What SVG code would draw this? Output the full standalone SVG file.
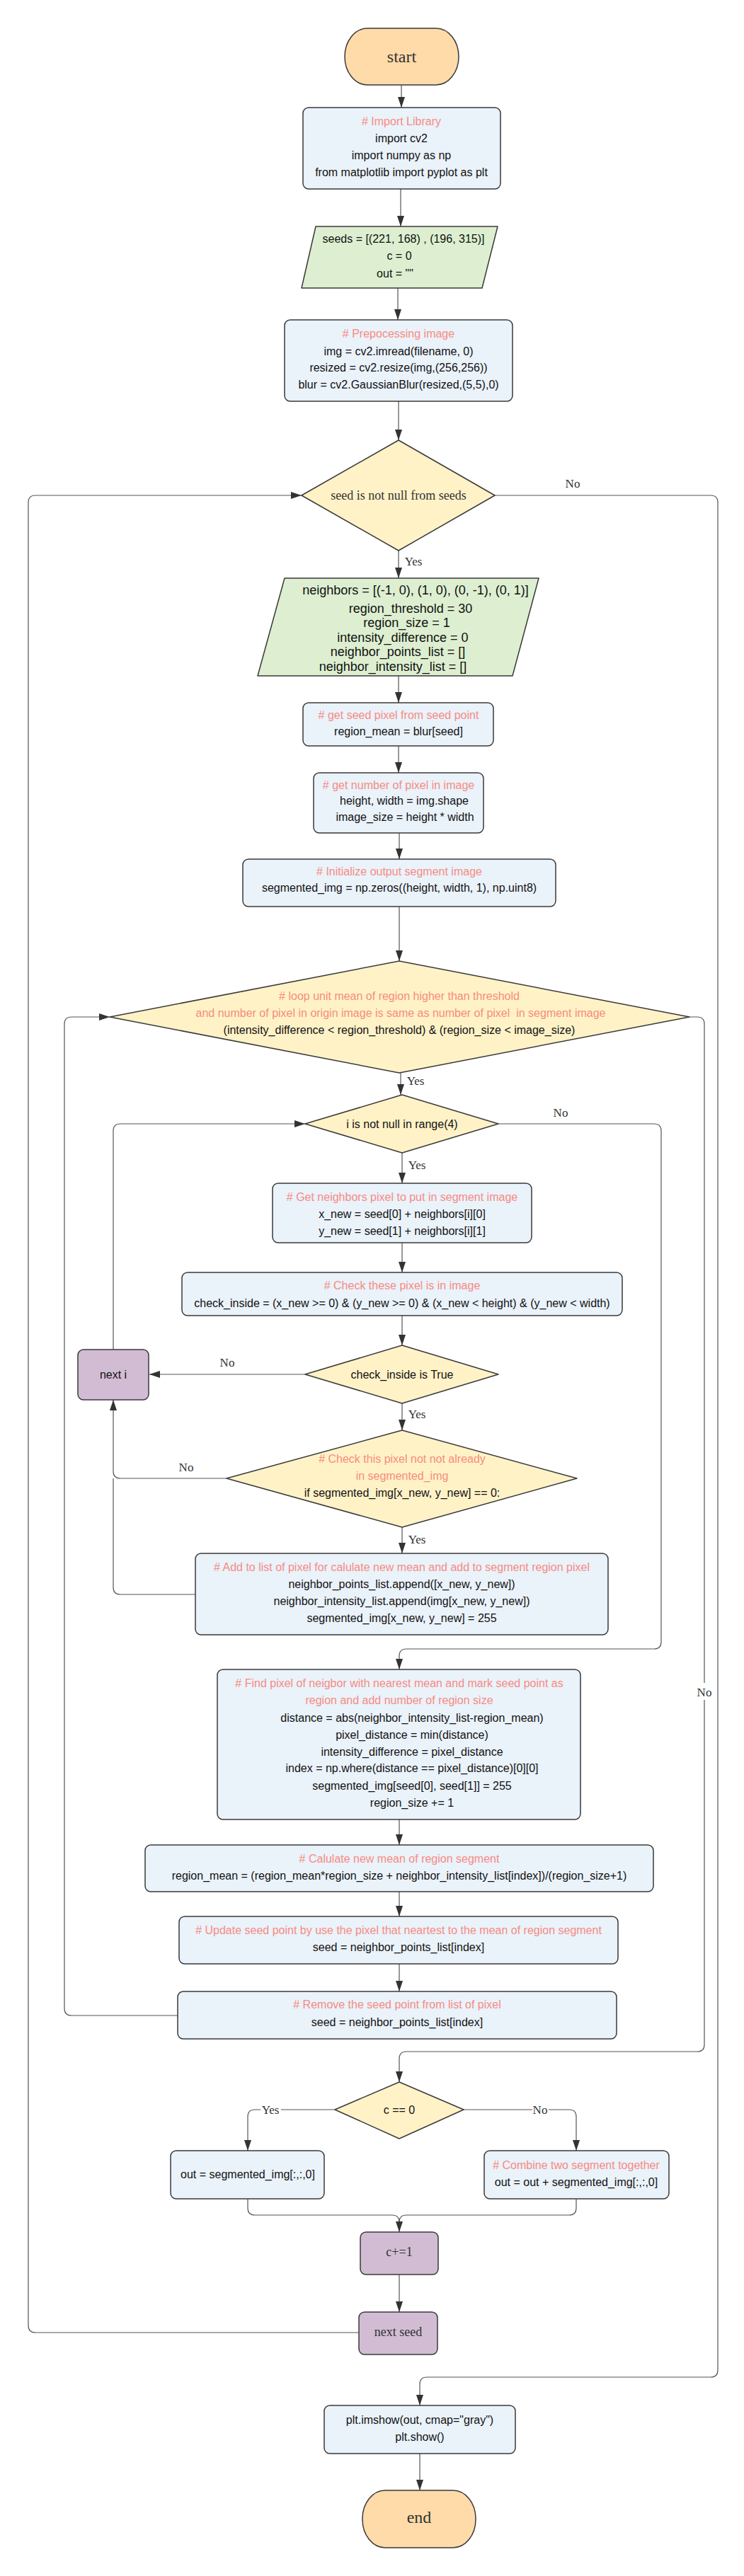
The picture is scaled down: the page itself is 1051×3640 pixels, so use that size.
<svg xmlns="http://www.w3.org/2000/svg" width="1051" height="3640" viewBox="0 0 1051 3640">
<style>
.term{fill:#FEDBA8;stroke:#3a3a3a;stroke-width:1.5}
.proc{fill:#EAF2FA;stroke:#3a3a3a;stroke-width:1.5}
.io{fill:#DDEFD0;stroke:#3a3a3a;stroke-width:1.5;stroke-linejoin:round}
.dec{fill:#FFF2C7;stroke:#3a3a3a;stroke-width:1.5;stroke-linejoin:round}
.pur{fill:#D2BCD3;stroke:#3a3a3a;stroke-width:1.5}
.t{font-family:"Liberation Sans",Arial,sans-serif;font-size:16px;fill:#111;text-anchor:middle}
.cm{font-family:"Liberation Sans",Arial,sans-serif;font-size:16px;fill:#F78B82;text-anchor:middle}
.big{font-size:18px}
.s{font-family:"Liberation Serif","Times New Roman",serif;fill:#333;text-anchor:middle}
.lbl{font-family:"Liberation Serif","Times New Roman",serif;font-size:17px;fill:#333;text-anchor:middle}
.c{fill:none;stroke:#555;stroke-width:1.2}
</style>
<defs>
<marker id="arr" viewBox="0 0 15 10" refX="15" refY="5" markerWidth="15" markerHeight="10" orient="auto" markerUnits="userSpaceOnUse">
<path d="M0,0 L15,5 L0,10 z" fill="#333"/>
</marker>
</defs>
<rect width="1051" height="3640" fill="#ffffff"/>

<g id="connectors">
<path class="c" marker-end="url(#arr)" d="M567,120 V152"/>
<path class="c" marker-end="url(#arr)" d="M566,267 V320"/>
<path class="c" marker-end="url(#arr)" d="M562,407 V452"/>
<path class="c" marker-end="url(#arr)" d="M563,567 V622"/>
<path class="c" marker-end="url(#arr)" d="M699,700 H1004 Q1014,700 1014,710 V3349 Q1014,3359 1004,3359 H603 Q593,3359 593,3369 V3399"/>
<path class="c" marker-end="url(#arr)" d="M563,778 V817"/>
<path class="c" marker-end="url(#arr)" d="M563,955 V993"/>
<path class="c" marker-end="url(#arr)" d="M563,1054 V1092"/>
<path class="c" marker-end="url(#arr)" d="M564,1177 V1214"/>
<path class="c" marker-end="url(#arr)" d="M564,1281 V1358"/>
<path class="c" marker-end="url(#arr)" d="M566,1516 V1547"/>
<path class="c" marker-end="url(#arr)" d="M704,1588 H924 Q934,1588 934,1598 V2320 Q934,2330 924,2330 H574 Q564,2330 564,2340 V2359"/>
<path class="c" marker-end="url(#arr)" d="M568,1629 V1672"/>
<path class="c" marker-end="url(#arr)" d="M568,1756 V1798"/>
<path class="c" marker-end="url(#arr)" d="M568,1859 V1901"/>
<path class="c" marker-end="url(#arr)" d="M431,1942 H211"/>
<path class="c" marker-end="url(#arr)" d="M160,1907 V1598 Q160,1588 170,1588 H431"/>
<path class="c" marker-end="url(#arr)" d="M568,1983 V2021"/>
<path class="c" marker-end="url(#arr)" d="M320,2089 H170 Q160,2089 160,2079 V1978"/>
<path class="c" d="M276,2253 H170 Q160,2253 160,2243 V2089"/>
<path class="c" marker-end="url(#arr)" d="M568,2158 V2195"/>
<path class="c" marker-end="url(#arr)" d="M564,2571 V2607"/>
<path class="c" marker-end="url(#arr)" d="M564,2673 V2708"/>
<path class="c" marker-end="url(#arr)" d="M564,2775 V2814"/>
<path class="c" marker-end="url(#arr)" d="M251,2848 H101 Q91,2848 91,2838 V1447 Q91,1437 101,1437 H155"/>
<path class="c" marker-end="url(#arr)" d="M974,1437 H985 Q995,1437 995,1447 V2889 Q995,2899 985,2899 H574 Q564,2899 564,2909 V2942"/>
<path class="c" marker-end="url(#arr)" d="M473,2981 H360 Q350,2981 350,2991 V3039"/>
<path class="c" marker-end="url(#arr)" d="M655,2981 H804 Q814,2981 814,2991 V3039"/>
<path class="c" d="M350,3107 V3120 Q350,3130 360,3130 H554 Q564,3130 564,3140"/>
<path class="c" marker-end="url(#arr)" d="M814,3107 V3120 Q814,3130 804,3130 H574 Q564,3130 564,3140 V3154"/>
<path class="c" marker-end="url(#arr)" d="M564,3214 V3267"/>
<path class="c" marker-end="url(#arr)" d="M507,3296 H50 Q40,3296 40,3286 V710 Q40,700 50,700 H426"/>
<path class="c" marker-end="url(#arr)" d="M593,3467 V3519"/>
<text class="lbl" x="809" y="689">No</text>
<text class="lbl" x="584" y="799">Yes</text>
<text class="lbl" x="587" y="1533">Yes</text>
<text class="lbl" x="792" y="1578">No</text>
<text class="lbl" x="589" y="1652">Yes</text>
<text class="lbl" x="321" y="1931">No</text>
<text class="lbl" x="589" y="2004">Yes</text>
<text class="lbl" x="263" y="2079">No</text>
<text class="lbl" x="589" y="2181">Yes</text>
<rect x="983" y="2378" width="24" height="24" fill="#ffffff"/>
<text class="lbl" x="995" y="2397">No</text>
<rect x="368" y="2970" width="29" height="22" fill="#ffffff"/>
<text class="lbl" x="382" y="2987">Yes</text>
<rect x="752" y="2970" width="23" height="22" fill="#ffffff"/>
<text class="lbl" x="763" y="2987">No</text>
</g>

<g id="start">
<rect class="term" x="487" y="40" width="161" height="80" rx="32" ry="40"/>
<text class="s" x="567.5" y="88" font-size="24">start</text>
</g>

<g id="import">
<rect class="proc" x="428" y="152" width="279" height="115" rx="8"/>
<text class="cm" x="567" y="177"># Import Library</text>
<text class="t" x="567" y="201">import cv2</text>
<text class="t" x="567" y="225">import numpy as np</text>
<text class="t" x="567" y="249">from matplotlib import pyplot as plt</text>
</g>

<g id="seeds">
<path class="io" d="M446,320 H703 L681,407 H426 Z"/>
<text class="t" x="570" y="343" font-size="17">seeds = [(221, 168) , (196, 315)]</text>
<text class="t" x="564" y="367">c = 0</text>
<text class="t" x="558" y="392">out = ""</text>
</g>

<g id="preprocess">
<rect class="proc" x="402" y="452" width="322" height="115" rx="8"/>
<text class="cm" x="563" y="477"># Prepocessing image</text>
<text class="t" x="563" y="502">img = cv2.imread(filename, 0)</text>
<text class="t" x="563" y="525">resized = cv2.resize(img,(256,256))</text>
<text class="t" x="563" y="549">blur = cv2.GaussianBlur(resized,(5,5),0)</text>
</g>

<g id="seed-loop">
<path class="dec" d="M563,622 L699,700 L563,778 L426,700 Z"/>
<text class="s" x="563" y="706" font-size="18">seed is not null from seeds</text>
</g>

<g id="init-vars">
<path class="io" d="M402,817 H761 L724,955 H364 Z"/>
<text class="t big" x="587" y="840">neighbors = [(-1, 0), (1, 0), (0, -1), (0, 1)]</text>
<text class="t big" x="580" y="866">region_threshold = 30</text>
<text class="t big" x="574.5" y="886">region_size = 1</text>
<text class="t big" x="569" y="907">intensity_difference = 0</text>
<text class="t big" x="562" y="927">neighbor_points_list = []</text>
<text class="t big" x="555" y="948">neighbor_intensity_list = []</text>
</g>

<g id="seed-pixel">
<rect class="proc" x="428" y="993" width="269" height="61" rx="8"/>
<text class="cm" x="563" y="1016"># get seed pixel from seed point</text>
<text class="t" x="563" y="1039">region_mean = blur[seed]</text>
</g>

<g id="num-pixel">
<rect class="proc" x="443" y="1092" width="240" height="85" rx="8"/>
<text class="cm" x="563" y="1115"># get number of pixel in image</text>
<text class="t" x="571" y="1137">height, width = img.shape</text>
<text class="t" x="572" y="1160">image_size = height * width</text>
</g>

<g id="init-output">
<rect class="proc" x="343" y="1214" width="442" height="67" rx="8"/>
<text class="cm" x="564" y="1237"># Initialize output segment image</text>
<text class="t" x="564" y="1260">segmented_img = np.zeros((height, width, 1), np.uint8)</text>
</g>

<g id="region-loop">
<path class="dec" d="M564,1358 L974,1437 L564,1516 L155,1437 Z"/>
<text class="cm" x="564" y="1413"># loop unit mean of region higher than threshold</text>
<text class="cm" x="566" y="1437" xml:space="preserve">and number of pixel in origin image is same as number of pixel  in segment image</text>
<text class="t" x="564" y="1461">(intensity_difference &lt; region_threshold) &amp; (region_size &lt; image_size)</text>
</g>

<g id="i-loop">
<path class="dec" d="M568,1547 L704,1588 L568,1629 L431,1588 Z"/>
<text class="t" x="568" y="1594">i is not null in range(4)</text>
</g>

<g id="get-neighbors">
<rect class="proc" x="385" y="1672" width="366" height="84" rx="8"/>
<text class="cm" x="568" y="1697"># Get neighbors pixel to put in segment image</text>
<text class="t" x="568" y="1721">x_new = seed[0] + neighbors[i][0]</text>
<text class="t" x="568" y="1745">y_new = seed[1] + neighbors[i][1]</text>
</g>

<g id="check-box">
<rect class="proc" x="257" y="1798" width="622" height="61" rx="8"/>
<text class="cm" x="568" y="1822"># Check these pixel is in image</text>
<text class="t" x="568" y="1847">check_inside = (x_new &gt;= 0) &amp; (y_new &gt;= 0) &amp; (x_new &lt; height) &amp; (y_new &lt; width)</text>
</g>

<g id="check-inside">
<path class="dec" d="M568,1901 L704,1942 L568,1983 L431,1942 Z"/>
<text class="t" x="568" y="1948">check_inside is True</text>
</g>

<g id="next-i">
<rect class="pur" x="110" y="1907" width="100" height="71" rx="8"/>
<text class="t" x="160" y="1948">next i</text>
</g>

<g id="check-segmented">
<path class="dec" d="M568,2021 L815,2089 L568,2158 L320,2089 Z"/>
<text class="cm" x="568" y="2067"># Check this pixel not not already</text>
<text class="cm" x="568" y="2091">in segmented_img</text>
<text class="t" x="568" y="2115">if segmented_img[x_new, y_new] == 0:</text>
</g>

<g id="add-list">
<rect class="proc" x="276" y="2195" width="583" height="115" rx="8"/>
<text class="cm" x="567.5" y="2220"># Add to list of pixel for calulate new mean and add to segment region pixel</text>
<text class="t" x="567.5" y="2244">neighbor_points_list.append([x_new, y_new])</text>
<text class="t" x="567.5" y="2268">neighbor_intensity_list.append(img[x_new, y_new])</text>
<text class="t" x="567.5" y="2292">segmented_img[x_new, y_new] = 255</text>
</g>

<g id="find-pixel">
<rect class="proc" x="307" y="2359" width="513" height="212" rx="8"/>
<text class="cm" x="564" y="2384"># Find pixel of neigbor with nearest mean and mark seed point as</text>
<text class="cm" x="564" y="2408">region and add number of region size</text>
<text class="t" x="582" y="2433">distance = abs(neighbor_intensity_list-region_mean)</text>
<text class="t" x="582" y="2457">pixel_distance = min(distance)</text>
<text class="t" x="582" y="2481">intensity_difference = pixel_distance</text>
<text class="t" x="582" y="2504">index = np.where(distance == pixel_distance)[0][0]</text>
<text class="t" x="582" y="2529">segmented_img[seed[0], seed[1]] = 255</text>
<text class="t" x="582" y="2553">region_size += 1</text>
</g>

<g id="calc-mean">
<rect class="proc" x="205" y="2607" width="718" height="66" rx="8"/>
<text class="cm" x="564" y="2632"># Calulate new mean of region segment</text>
<text class="t" x="564" y="2656">region_mean = (region_mean*region_size + neighbor_intensity_list[index])/(region_size+1)</text>
</g>

<g id="update-seed">
<rect class="proc" x="253" y="2708" width="620" height="67" rx="8"/>
<text class="cm" x="563" y="2733"># Update seed point by use the pixel that neartest to the mean of region segment</text>
<text class="t" x="563" y="2757">seed = neighbor_points_list[index]</text>
</g>

<g id="remove-seed">
<rect class="proc" x="251" y="2814" width="620" height="67" rx="8"/>
<text class="cm" x="561" y="2838"># Remove the seed point from list of pixel</text>
<text class="t" x="561" y="2863">seed = neighbor_points_list[index]</text>
</g>

<g id="c-check">
<path class="dec" d="M564,2942 L655,2981 L564,3022 L473,2981 Z"/>
<text class="t" x="564" y="2987">c == 0</text>
</g>

<g id="out-first">
<rect class="proc" x="241" y="3039" width="217" height="68" rx="8"/>
<text class="t" x="350" y="3078">out = segmented_img[:,:,0]</text>
</g>

<g id="combine">
<rect class="proc" x="684" y="3039" width="261" height="68" rx="8"/>
<text class="cm" x="814" y="3065"># Combine two segment together</text>
<text class="t" x="814" y="3089">out = out + segmented_img[:,:,0]</text>
</g>

<g id="c-inc">
<rect class="pur" x="509" y="3154" width="110" height="60" rx="8"/>
<text class="s" x="564" y="3188" font-size="18">c+=1</text>
</g>

<g id="next-seed">
<rect class="pur" x="507" y="3267" width="111" height="60" rx="8"/>
<text class="s" x="562.5" y="3301" font-size="18">next seed</text>
</g>

<g id="show">
<rect class="proc" x="458" y="3399" width="270" height="68" rx="8"/>
<text class="t" x="593" y="3425">plt.imshow(out, cmap="gray")</text>
<text class="t" x="593" y="3449">plt.show()</text>
</g>

<g id="end">
<rect class="term" x="512" y="3519" width="160" height="81" rx="32" ry="40"/>
<text class="s" x="592" y="3565" font-size="24">end</text>
</g>
</svg>
